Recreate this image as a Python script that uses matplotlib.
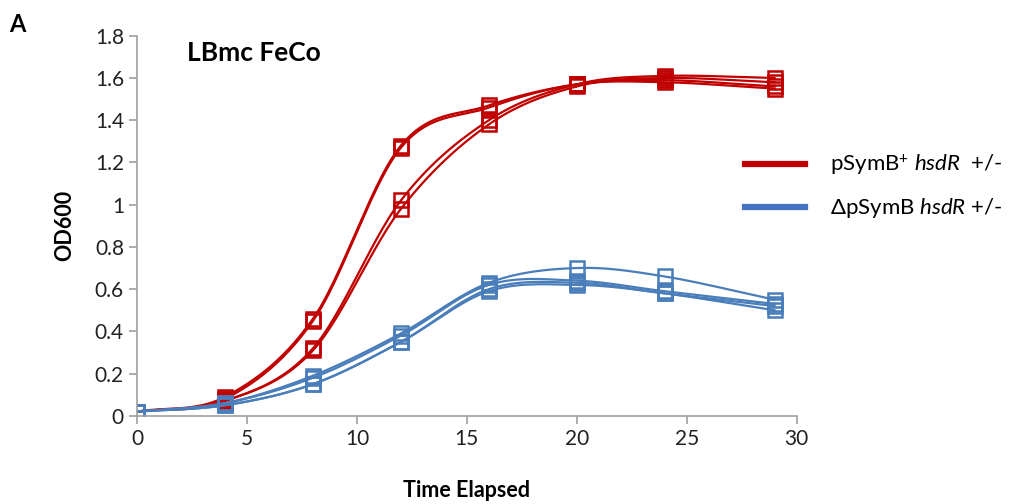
import numpy as np
import matplotlib.pyplot as plt
from matplotlib.lines import Line2D

plt.rcParams['font.family'] = ['Lato', 'DejaVu Sans']
plt.rcParams['mathtext.fontset'] = 'custom'
plt.rcParams['mathtext.rm'] = 'Lato'
plt.rcParams['mathtext.it'] = 'Lato:italic'

hours = [0, 4, 8, 12, 16, 20, 24, 29]

# pSymB+ hsdR +/- replicates
red_1 = [0.02, 0.09, 0.46, 1.28, 1.47, 1.57, 1.59, 1.56]
red_2 = [0.02, 0.08, 0.45, 1.27, 1.46, 1.57, 1.58, 1.55]
red_3 = [0.02, 0.07, 0.32, 1.02, 1.40, 1.57, 1.61, 1.60]
red_4 = [0.02, 0.07, 0.31, 0.98, 1.38, 1.56, 1.60, 1.58]

# dpSymB hsdR +/- replicates
blue_1 = [0.02, 0.06, 0.19, 0.39, 0.63, 0.70, 0.66, 0.55]
blue_2 = [0.02, 0.06, 0.18, 0.38, 0.62, 0.64, 0.59, 0.53]
blue_3 = [0.02, 0.05, 0.15, 0.35, 0.60, 0.63, 0.58, 0.52]
blue_4 = [0.02, 0.05, 0.15, 0.35, 0.59, 0.62, 0.58, 0.50]

red = '#C00000'
blue = '#4A7EBB'


def smooth(x, y, n=30):
    # catmull-rom through the points, like excel's smoothed line
    p = np.column_stack([x, y]).astype(float)
    p = np.vstack([2 * p[0] - p[1], p, 2 * p[-1] - p[-2]])
    out = []
    t = np.linspace(0, 1, n)[:, None]
    for i in range(1, len(p) - 2):
        p0, p1, p2, p3 = p[i - 1], p[i], p[i + 1], p[i + 2]
        seg = 0.5 * ((2 * p1) + (-p0 + p2) * t + (2 * p0 - 5 * p1 + 4 * p2 - p3) * t ** 2
                     + (-p0 + 3 * p1 - 3 * p2 + p3) * t ** 3)
        out.append(seg)
    out = np.vstack(out)
    return out[:, 0], out[:, 1]


fig = plt.figure(figsize=(10.16, 5.04), dpi=100)
ax = fig.add_axes([0.135, 0.175, 0.649, 0.754])

for ys, c in [(red_1, red), (red_2, red), (red_3, red), (red_4, red),
              (blue_1, blue), (blue_2, blue), (blue_3, blue), (blue_4, blue)]:
    sx, sy = smooth(hours, ys)
    ax.plot(sx, sy, color=c, lw=1.6)
    ax.plot(hours, ys, ls='none', marker='s', ms=10, mfc='none', mec=c, mew=1.8)

ax.set_xlim(0, 30)
ax.set_ylim(0, 1.8)
ax.set_xticks(range(0, 31, 5))
ax.set_yticks(np.arange(0, 1.81, 0.2))
ax.set_yticklabels(['0', '0.2', '0.4', '0.6', '0.8', '1', '1.2', '1.4', '1.6', '1.8'])
for s in ['top', 'right']:
    ax.spines[s].set_visible(False)
for s in ['left', 'bottom']:
    ax.spines[s].set_color('#A0A0A0')
    ax.spines[s].set_linewidth(1.2)
ax.tick_params(colors='#A0A0A0', labelcolor='#222222', labelsize=15, length=6, width=1.2)
ax.set_xlabel('Time Elapsed', fontsize=15.5, fontweight='bold', labelpad=22)
ax.set_ylabel('OD600', fontsize=15.5, fontweight='bold', labelpad=14)

ax.text(0.075, 0.985, 'LBmc FeCo', transform=ax.transAxes, fontsize=19,
        fontweight='bold', va='top')
fig.text(0.009, 0.975, 'A', fontsize=17, fontweight='bold', va='top')

handles = [Line2D([], [], color=red, lw=4.5), Line2D([], [], color='#4472C4', lw=4.5)]
labels = [r'pSymB$^{+}$ $\it{hsdR}$  +/-', r'ΔpSymB $\it{hsdR}$ +/-']
fig.legend(handles, labels, loc='center left', bbox_to_anchor=(0.714, 0.63),
           frameon=False, fontsize=16, handlelength=2.7, handletextpad=1.1,
           labelspacing=0.85)

fig.savefig('out.png', dpi=100)
